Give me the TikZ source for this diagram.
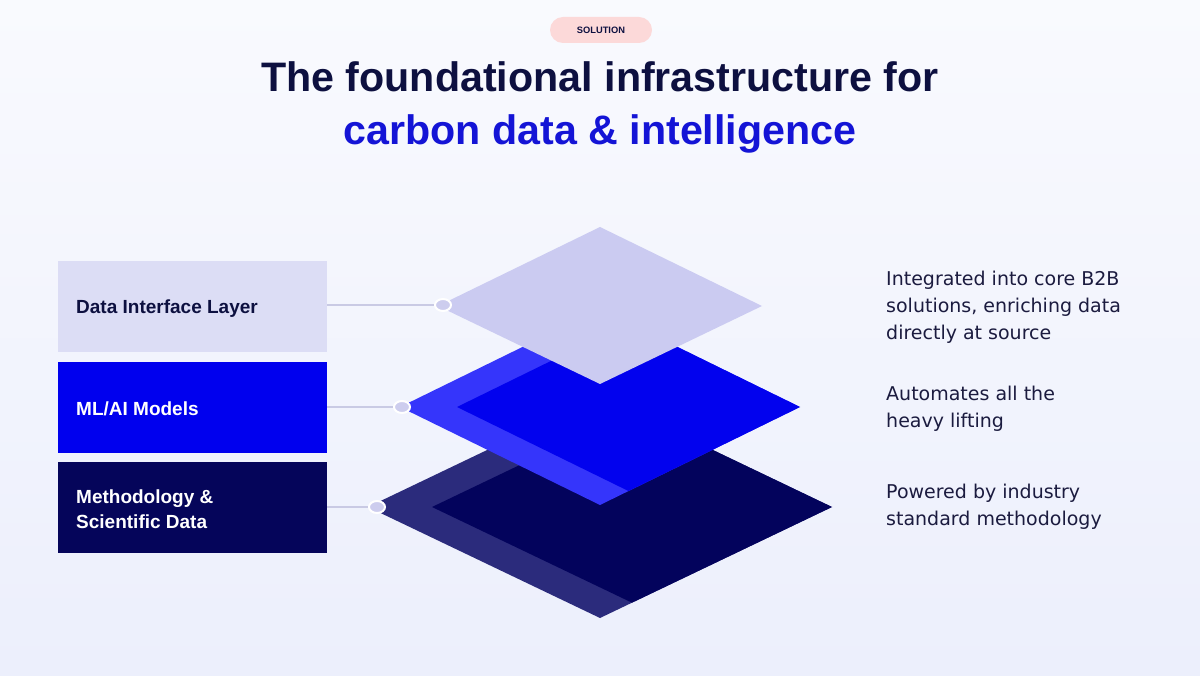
\documentclass[tikz,border=0pt]{standalone}
\usepackage{fontspec}
\setmainfont{Liberation Sans}
\newfontfamily\bodyfont{DejaVu Sans}
\definecolor{bgtop}{HTML}{F9FAFE}
\definecolor{bgbot}{HTML}{ECEFFC}
\definecolor{navy}{HTML}{0D1040}
\definecolor{titleblue}{HTML}{1414D6}
\definecolor{bodytext}{HTML}{1B1B3F}
\definecolor{pillpink}{HTML}{FCD9D9}
\definecolor{lavbox}{HTML}{DCDDF5}
\definecolor{bluebox}{HTML}{0000EE}
\definecolor{navybox}{HTML}{05055A}
\definecolor{toplayer}{HTML}{CBCBF1}
\definecolor{midband}{HTML}{3535FB}
\definecolor{midinner}{HTML}{0202EE}
\definecolor{botband}{HTML}{2B2B7C}
\definecolor{botinner}{HTML}{03035C}
\definecolor{conn}{HTML}{C9CAE4}
\definecolor{dotfill}{HTML}{CDCDEE}
\tikzset{
  layerbox/.style={rectangle, inner sep=0pt, minimum width=269pt, minimum height=91pt, anchor=north west},
  boxlabel/.style={anchor=base west, inner sep=0pt, font=\fontsize{19}{25}\selectfont\bfseries},
  bodyline/.style={anchor=base west, inner sep=0pt, font=\bodyfont\fontsize{19}{27}\selectfont, text=bodytext},
  connline/.style={draw=conn, line width=1.6pt},
  dot/.style={ellipse, minimum width=16pt, minimum height=12pt, inner sep=0pt, fill=dotfill, draw=white, line width=2pt}
}
\usetikzlibrary{shapes.geometric}
\begin{document}
\begin{tikzpicture}[x=1pt,y=-1pt]
\useasboundingbox (0,0) rectangle (1200,676);
\shade[top color=bgtop, bottom color=bgbot] (0,0) rectangle (1200,676);

% pill
\node[name=pill, rectangle, rounded corners=13pt, fill=pillpink, minimum width=102pt, minimum height=26pt, inner sep=0pt,
  font=\fontsize{9.3}{10}\selectfont\bfseries, text=navy] at (601,30) {SOLUTION};

% title
\node[name=title1, anchor=base, inner sep=0pt, font=\fontsize{41.2}{48}\selectfont\bfseries, text=navy] at (600,92) {The foundational infrastructure for};
\node[name=title2, anchor=base, inner sep=0pt, font=\fontsize{41.2}{48}\selectfont\bfseries, text=titleblue] at (600,145) {carbon data \& intelligence};

% left boxes
\node[layerbox, fill=lavbox, name=box1] at (58,261) {};
\node[layerbox, fill=bluebox, name=box2] at (58,362) {};
\node[layerbox, fill=navybox, name=box3] at (58,462) {};
\node[boxlabel, text=navy, name=lab1] at (76,314) {Data Interface Layer};
\node[boxlabel, text=white, name=lab2] at (76,415) {ML/AI Models};
\node[boxlabel, text=white, name=lab3a] at (76,503) {Methodology \&};
\node[boxlabel, text=white, name=lab3b] at (76,528) {Scientific Data};

% bottom layer
\fill[botband] (368,507) -- (600,396) -- (832,507) -- (600,618) -- cycle;
\begin{scope}
  \clip (368,507) -- (600,396) -- (832,507) -- (600,618) -- cycle;
  \fill[botinner] (432,507) -- (664,396) -- (896,507) -- (664,618) -- cycle;
\end{scope}
% middle layer
\fill[midband] (400,407) -- (600,309) -- (800,407) -- (600,505) -- cycle;
\begin{scope}
  \clip (400,407) -- (600,309) -- (800,407) -- (600,505) -- cycle;
  \fill[midinner] (457,407) -- (657,309) -- (857,407) -- (657,505) -- cycle;
\end{scope}
% top layer
\fill[toplayer] (438,306) -- (600,227) -- (762,306) -- (600,384) -- cycle;

% dots and connectors
\node[dot, name=dot1] at (443,305) {};
\node[dot, name=dot2] at (402,407) {};
\node[dot, name=dot3] at (377,507) {};
\draw[connline] (dot1.west -| box1.east) -- (dot1.west);
\draw[connline] (dot2.west -| box2.east) -- (dot2.west);
\draw[connline] (dot3.west -| box3.east) -- (dot3.west);

% right descriptions
\node[bodyline, name=d1a] at (886,286) {Integrated into core B2B};
\node[bodyline, name=d1b] at (886,313) {solutions, enriching data};
\node[bodyline, name=d1c] at (886,340) {directly at source};
\node[bodyline, name=d2a] at (886,400) {Automates all the};
\node[bodyline, name=d2b] at (886,427) {heavy lifting};
\node[bodyline, name=d3a] at (886,498) {Powered by industry};
\node[bodyline, name=d3b] at (886,525) {standard methodology};
\end{tikzpicture}
\end{document}
